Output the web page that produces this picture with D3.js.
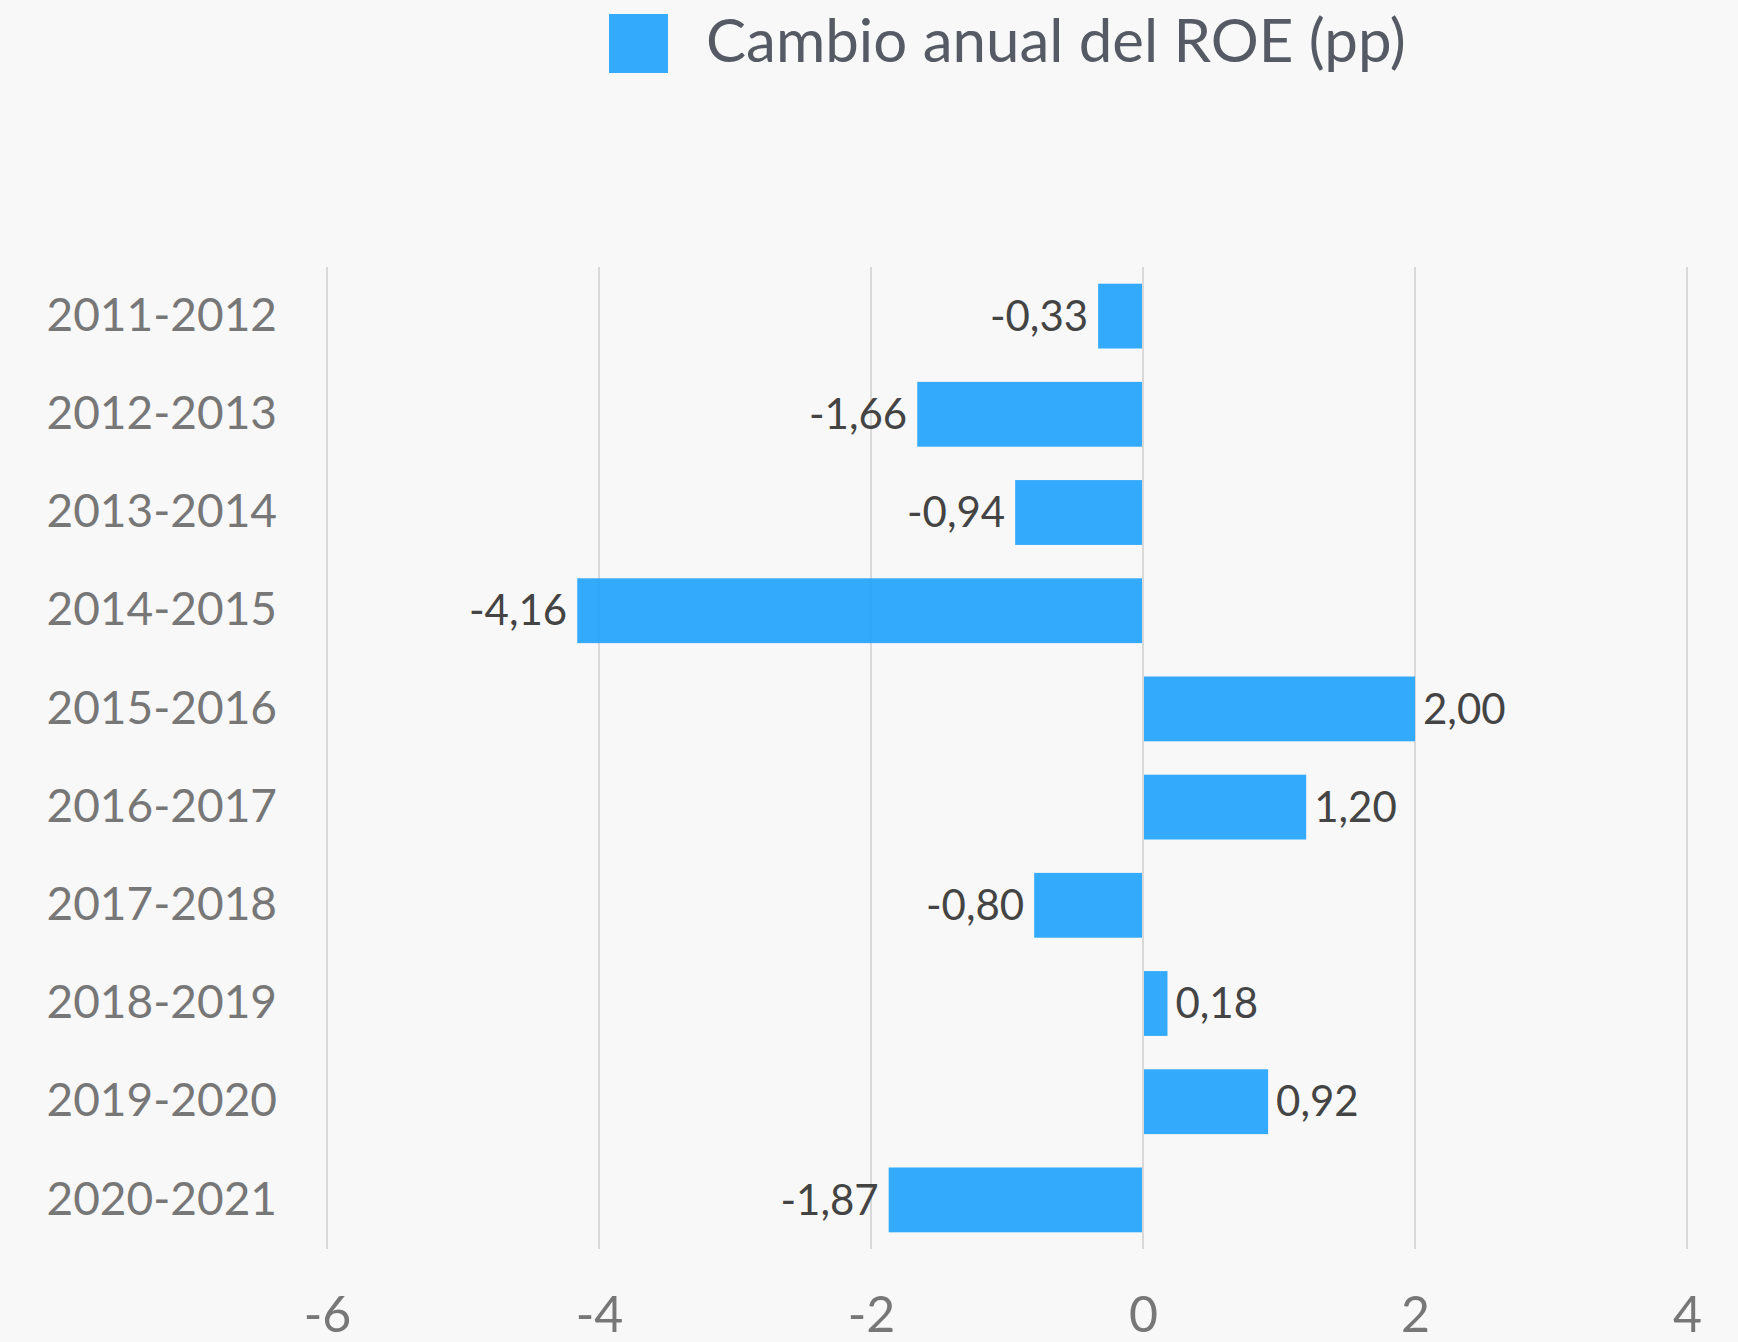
<!DOCTYPE html>
<html>
<head>
<meta charset="utf-8">
<script src="https://cdn.jsdelivr.net/npm/d3@7"></script>
<style>
  html, body { margin: 0; padding: 0; background: #f8f8f8; }
  svg { display: block; font-family: Lato, "Noto Sans", sans-serif; }
</style>
</head>
<body>
<div id="chart"></div>
<script>
(function(d3) {
  'use strict';

  var periods = ['2011-2012', '2012-2013', '2013-2014', '2014-2015', '2015-2016',
                 '2016-2017', '2017-2018', '2018-2019', '2019-2020', '2020-2021'];
  var roeChange = [-0.33, -1.66, -0.94, -4.16, 2.00, 1.20, -0.80, 0.18, 0.92, -1.87];
  var xTicks = [-6, -4, -2, 0, 2, 4];
  var seriesName = 'Cambio anual del ROE (pp)';

  var width = 1738;
  var height = 1342;
  var margin = { top: 267, right: 51, bottom: 93, left: 327 };
  var barColor = 'rgb(29,161,252)';

  var svg = d3.select('#chart')
    .append('svg')
    .attr('width', width)
    .attr('height', height);

  svg.append('rect')
    .attr('width', width)
    .attr('height', height)
    .attr('fill', '#f8f8f8');

  var x = d3.scaleLinear()
    .domain([-6, 4])
    .range([margin.left, width - margin.right]);

  var y = d3.scaleBand()
    .domain(periods)
    .range([margin.top, height - margin.bottom])
    .paddingInner(0.34)
    .paddingOuter(0.17);

  // grid lines
  svg.append('g')
    .selectAll('line')
    .data(xTicks)
    .enter()
    .append('line')
    .attr('x1', function(d) { return x(d); })
    .attr('x2', function(d) { return x(d); })
    .attr('y1', margin.top)
    .attr('y2', height - margin.bottom)
    .attr('stroke', '#cfcfcf')
    .attr('stroke-width', 1.5);

  // x axis labels
  var xAxis = svg.append('g')
    .attr('transform', 'translate(0,' + (height - 10) + ')')
    .call(d3.axisBottom(x).tickValues(xTicks).tickSize(0).tickPadding(0)
      .tickFormat(function(d) { return d < 0 ? '-' + Math.abs(d) : d; }));
  xAxis.select('.domain').remove();
  xAxis.selectAll('text')
    .attr('dy', null)
    .attr('y', 0)
    .attr('fill', '#777')
    .style('font-family', 'Lato, sans-serif')
    .style('font-size', '50px');

  // y axis labels
  var yAxis = svg.append('g')
    .attr('transform', 'translate(' + (margin.left - 50) + ',0)')
    .call(d3.axisLeft(y).tickSize(0).tickPadding(0));
  yAxis.select('.domain').remove();
  yAxis.selectAll('text')
    .attr('fill', '#777')
    .style('font-family', 'Lato, sans-serif')
    .style('font-size', '46px');

  var data = periods.map(function(p, i) { return { period: p, value: roeChange[i] }; });

  svg.append('g')
    .selectAll('rect')
    .data(data)
    .enter()
    .append('rect')
    .attr('x', function(d) { return d.value < 0 ? x(d.value) : x(0) + 1; })
    .attr('y', function(d) { return y(d.period); })
    .attr('width', function(d) { return Math.abs(x(d.value) - x(0)) - 1; })
    .attr('height', y.bandwidth())
    .attr('fill', barColor)
    .attr('fill-opacity', 0.9);

  var fmt = function(v) { return d3.format('.2f')(v).replace('.', ',').replace('\u2212', '-'); };

  svg.append('g')
    .selectAll('text')
    .data(data)
    .enter()
    .append('text')
    .attr('x', function(d) { return d.value < 0 ? x(d.value) - 10 : x(d.value) + 8; })
    .attr('y', function(d) { return y(d.period) + y.bandwidth() / 2; })
    .attr('dy', '0.35em')
    .attr('text-anchor', function(d) { return d.value < 0 ? 'end' : 'start'; })
    .attr('fill', '#444')
    .style('font-size', '42px')
    .text(function(d) { return fmt(d.value); });

  // legend
  var legend = svg.append('g')
    .attr('transform', 'translate(609,14)');
  legend.append('rect')
    .attr('width', 59)
    .attr('height', 59)
    .attr('fill', barColor)
    .attr('fill-opacity', 0.9);
  legend.append('text')
    .attr('x', 97)
    .attr('y', 48)
    .attr('fill', '#555a64')
    .style('font-size', '60px')
    .text(seriesName);

})(window.d3);
</script>
</body>
</html>
